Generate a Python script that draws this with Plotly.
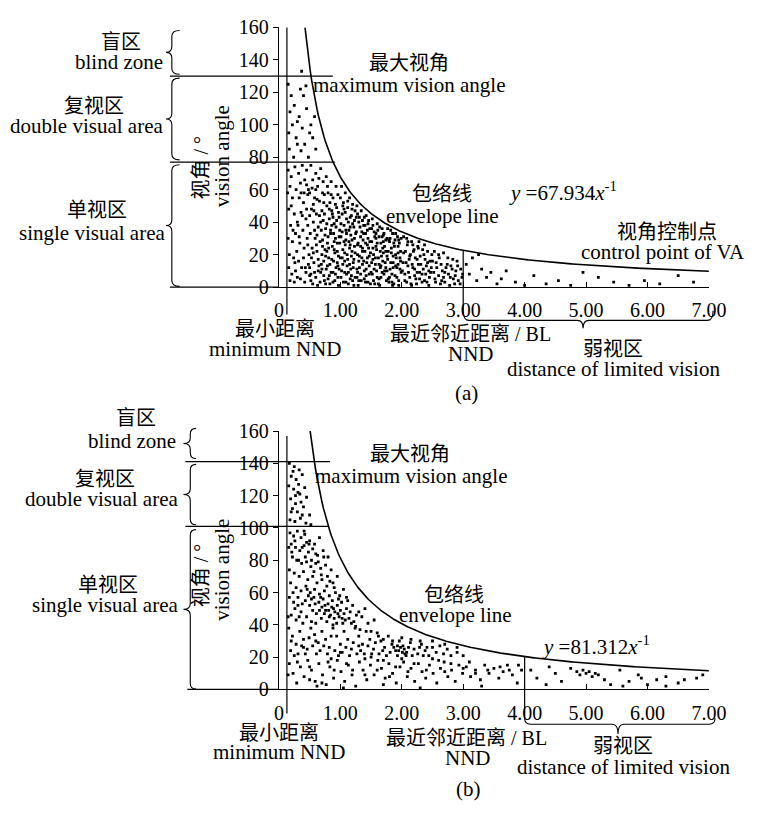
import numpy as np
import plotly.graph_objects as go

W, H = 766, 814

# ---------------- data ----------------
A_COEF = 67.934          # envelope y = 67.934 x^-1  (panel a)
B_COEF = 81.312          # envelope y = 81.312 x^-1  (panel b)
A_MIN_NND = 0.13
B_MIN_NND = 0.13
A_BL = 3.0
B_BL = 4.0
A_ZONE_LINES = [130, 77]
B_ZONE_LINES = [141, 101]

X_TICKS = [0, 1, 2, 3, 4, 5, 6, 7]
X_TICKTEXT = ["0", "1.00", "2.00", "3.00", "4.00", "5.00", "6.00", "7.00"]
Y_TICKS = [0, 20, 40, 60, 80, 100, 120, 140, 160]

# panel (a) scatter, read region by region (x = NND / BL, y = vision angle / deg)
A_LEFT = [(0.15,125),(0.2,118),(0.18,108),(0.25,112),(0.16,95),(0.22,100),(0.28,92),(0.17,85),(0.24,80),(0.3,88),
          (0.15,72),(0.2,68),(0.26,74),(0.18,62),(0.22,55),(0.28,60),(0.16,48),(0.25,45),(0.19,38),(0.3,40),
          (0.15,30),(0.22,28),(0.27,33),(0.17,20),(0.24,18),(0.29,22),(0.16,12),(0.21,8),(0.27,10),(0.18,4),
          (0.25,3),(0.3,6),(0.2,50),(0.23,35),(0.14,58),(0.26,15)]
A_UPPER = [(0.37,133),(0.35,122),(0.4,118),(0.33,105),(0.45,110),(0.38,98),(0.5,95),(0.42,88),(0.55,92),
           (0.36,84),(0.48,80),(0.6,85),(0.3,102),(0.52,100),(0.44,124),(0.58,105)]
A_X03 = [(0.32,70),(0.38,75),(0.45,72),(0.35,64),(0.42,66),(0.48,60),(0.33,55),(0.4,52),(0.47,57),(0.36,46),
         (0.44,42),(0.31,38),(0.39,35),(0.46,30),(0.34,27),(0.41,24),(0.49,20),(0.32,16),(0.37,12),(0.44,9),
         (0.48,14),(0.35,5),(0.42,3),(0.5,7),(0.38,44),(0.45,48),(0.33,31),(0.4,18),(0.47,38),(0.36,58)]
A_X05 = [(0.52,75),(0.6,70),(0.68,73),(0.55,66),(0.63,62),(0.72,65),(0.5,58),(0.58,55),(0.66,53),(0.74,57),
         (0.53,48),(0.61,45),(0.7,47),(0.56,40),(0.64,37),(0.72,41),(0.51,33),(0.59,30),(0.67,28),(0.75,32),
         (0.54,24),(0.62,22),(0.7,20),(0.57,15),(0.65,13),(0.73,16),(0.52,8),(0.6,6),(0.68,9),(0.74,4),
         (0.55,2),(0.63,1),(0.58,35),(0.69,35),(0.61,26),(0.71,25),(0.53,18),(0.66,44),(0.56,51),(0.73,52),
         (0.64,10),(0.5,12),(0.7,11),(0.6,60),(0.75,23)]
A_X075 = [(0.77,68),(0.85,65),(0.93,62),(0.8,58),(0.88,55),(0.96,57),(0.78,50),(0.86,47),(0.94,49),(0.82,42),
          (0.9,39),(0.98,43),(0.76,36),(0.84,33),(0.92,30),(0.99,35),(0.79,27),(0.87,25),(0.95,22),(0.81,18),
          (0.89,16),(0.97,19),(0.77,11),(0.85,9),(0.93,12),(0.8,5),(0.88,3),(0.96,6),(0.83,14),(0.91,21),
          (0.78,22),(0.86,38),(0.94,41),(0.8,31),(0.92,8),(0.99,27),(0.87,45),(0.83,52),(0.95,15),(0.76,2),
          (0.9,28),(0.98,11),(0.82,7),(0.89,33),(0.97,1)]
A_X10 = [(1.02,62),(1.08,58),(1.15,55),(1.05,52),(1.12,49),(1.2,51),(1.03,45),(1.1,42),(1.18,44),(1.24,47),
         (1.06,38),(1.14,35),(1.22,37),(1.01,31),(1.09,29),(1.16,26),(1.23,30),(1.04,23),(1.11,20),(1.19,22),
         (1.07,16),(1.15,14),(1.22,17),(1.02,10),(1.1,8),(1.17,11),(1.24,6),(1.05,3),(1.13,2),(1.2,4),
         (1.08,26),(1.17,32),(1.13,40),(1.21,12),(1.03,18),(1.09,35),(1.18,19),(1.06,48),(1.23,25),(1.11,13),
         (1.16,5),(1.01,39),(1.14,28),(1.2,39),(1.07,9)]
A_X125 = [(1.27,50),(1.34,47),(1.42,44),(1.3,40),(1.38,38),(1.46,41),(1.26,34),(1.33,31),(1.41,33),(1.48,36),
          (1.29,27),(1.36,24),(1.44,26),(1.28,20),(1.35,18),(1.43,15),(1.49,21),(1.31,12),(1.39,10),(1.47,13),
          (1.27,6),(1.34,4),(1.42,7),(1.49,2),(1.37,29),(1.45,30),(1.3,16),(1.4,22),(1.32,37),(1.47,8),
          (1.26,43),(1.39,43),(1.44,18),(1.28,9),(1.36,14),(1.41,3),(1.33,25),(1.46,24),(1.29,1),(1.38,33)]
A_X15 = [(1.52,42),(1.6,39),(1.68,36),(1.55,34),(1.63,31),(1.71,33),(1.51,28),(1.58,25),(1.66,27),(1.74,29),
         (1.54,20),(1.62,18),(1.7,21),(1.57,14),(1.65,12),(1.73,15),(1.52,8),(1.6,6),(1.68,9),(1.75,4),
         (1.56,2),(1.64,1),(1.59,23),(1.69,24),(1.53,17),(1.72,10),(1.61,35),(1.67,19),(1.55,11),(1.74,22),
         (1.63,5),(1.58,30),(1.7,28),(1.51,36),(1.66,13)]
A_X175 = [(1.77,36),(1.85,33),(1.93,31),(1.8,28),(1.88,25),(1.96,27),(1.78,22),(1.86,19),(1.94,21),(1.82,15),
          (1.9,13),(1.98,16),(1.76,10),(1.84,8),(1.92,6),(1.99,9),(1.79,3),(1.87,2),(1.95,4),(1.83,24),
          (1.91,18),(1.97,11),(1.81,30),(1.89,29),(1.77,17),(1.94,14),(1.86,12),(1.8,6),(1.98,22),(1.85,1)]
A_X20 = [(2.03,31),(2.1,28),(2.18,26),(2.26,25),(2.34,23),(2.42,22),(2.06,22),(2.14,20),(2.22,18),(2.3,19),
         (2.38,17),(2.46,16),(2.02,15),(2.1,13),(2.18,12),(2.27,14),(2.35,11),(2.44,10),(2.05,8),(2.13,6),
         (2.21,7),(2.29,5),(2.37,4),(2.45,6),(2.08,3),(2.16,1),(2.24,2),(2.33,8),(2.41,3),(2.48,12),
         (2.12,17),(2.2,23),(2.4,13),(2.25,9),(2.49,20)]
A_X25 = [(2.53,22),(2.6,20),(2.68,21),(2.75,18),(2.83,17),(2.9,16),(2.56,15),(2.64,14),(2.72,12),(2.8,13),
         (2.88,10),(2.96,11),(2.52,9),(2.6,7),(2.68,6),(2.76,8),(2.84,5),(2.92,4),(2.55,3),(2.63,2),
         (2.7,3),(2.78,1),(2.86,2),(2.98,6),(2.66,10)]
A_DENSE = [(0.43,12),(0.47,26),(0.52,4),(0.56,21),(0.58,9),(0.62,32),(0.64,17),(0.67,3),(0.69,14),(0.71,29),
           (0.73,7),(0.76,19),(0.78,39),(0.79,13),(0.81,24),(0.83,2),(0.84,35),(0.86,17),(0.88,9),(0.9,23),
           (0.91,4),(0.93,37),(0.95,27),(0.96,13),(0.98,31),(1.0,18),(1.01,6),(1.03,34),(1.04,14),(1.06,28),
           (1.07,21),(1.09,3),(1.1,33),(1.12,17),(1.13,9),(1.15,24),(1.16,37),(1.18,7),(1.19,29),(1.21,15),
           (1.22,1),(1.24,21),(1.25,33),(1.27,11),(1.28,26),(1.3,4),(1.31,19),(1.33,8),(1.35,34),(1.36,22),
           (1.38,16),(1.39,5),(1.41,27),(1.42,11),(1.44,35),(1.45,3),(1.47,19),(1.48,28),(1.5,9),(1.51,15),
           (1.53,24),(1.54,4),(1.56,31),(1.57,18),(1.59,10),(1.6,27),(1.62,2),(1.63,14),(1.65,22),(1.66,6),
           (1.68,31),(1.69,16),(1.71,8),(1.72,25),(1.74,12),(1.76,19),(1.78,5),(1.79,29),(1.81,11),(1.83,21),
           (1.84,3),(1.86,15),(1.87,27),(1.89,7),(1.9,20),(1.92,12),(1.94,25),(1.95,1),(1.97,18),(1.99,30),
           (2.01,10),(2.03,21),(2.05,4),(2.07,15),(2.09,26),(2.11,9),(2.13,19),(2.15,2),(2.17,14),(2.19,22),
           (2.21,11),(2.23,5),(2.25,17),(2.27,24),(2.29,9),(2.31,14),(2.33,3),(2.36,20),(2.39,8),(2.42,15),
           (2.44,1),(2.47,9),(2.5,16),(2.54,5),(2.57,12),(2.61,18),(2.65,4),(2.7,9),(2.74,14),(2.79,6),
           (2.82,11),(2.87,7),(2.91,13),(2.95,2),(2.99,8)]
A_MID = [(0.41,58),(0.45,63),(0.5,44),(0.54,61),(0.57,47),(0.62,54),(0.65,67),(0.68,40),(0.71,58),(0.74,45),
         (0.79,62),(0.82,48),(0.85,57),(0.88,43),(0.92,51),(0.97,46),(1.0,55),(1.04,50),(1.08,46),(1.12,53),
         (1.16,43),(1.19,48),(1.23,41),(1.28,45),(1.31,43),(1.36,41),(1.4,38),(1.45,39),(1.53,38),(1.58,33),
         (1.64,37),(1.7,32),(1.76,30),(1.82,35),(1.9,33),(1.95,29),(2.08,30),(2.16,28),(2.28,28),(2.37,26)]
A_FAR = [(3.05,14),(3.1,8),(3.15,18),(3.22,4),(3.3,11),(3.38,6),(3.45,9),(3.55,2),(3.62,5),(3.7,10),
         (3.85,3),(4.0,1),(4.15,7),(4.35,2),(4.55,4),(4.75,1),(4.95,9),(5.2,6),(5.45,3),(5.7,1),
         (5.95,4),(6.2,2),(6.5,7),(6.75,3),(3.25,20)]

# panel (b) scatter
B_UPPER = [(0.17,140),(0.25,138),(0.33,136),(0.2,132),(0.28,130),(0.38,133),(0.16,126),(0.24,124),(0.32,127),
           (0.42,125),(0.19,118),(0.27,120),(0.36,116),(0.45,119),(0.22,112),(0.3,110),(0.4,113),(0.5,108),
           (0.18,105),(0.26,104),(0.35,106),(0.44,103),(0.52,102),(0.31,122),(0.38,108),
           (0.2,110),(0.27,115),(0.34,121),(0.23,135)]
B_Y60 = [(0.18,97),(0.24,95),(0.3,98),(0.36,94),(0.42,96),(0.5,92),(0.58,90),(0.66,94),(0.2,90),(0.27,88),
         (0.34,86),(0.41,89),(0.48,85),(0.55,87),(0.63,83),(0.72,86),(0.8,82),(0.22,82),(0.29,80),(0.37,78),
         (0.45,79),(0.52,76),(0.6,78),(0.68,75),(0.76,77),(0.85,74),(0.17,74),(0.25,72),(0.33,70),(0.4,73),
         (0.47,68),(0.55,70),(0.62,66),(0.7,68),(0.78,64),(0.88,66),(0.95,70),(0.19,66),(0.28,63),(0.36,61),
         (0.44,64),(0.51,60),(0.58,62),(0.66,59),(0.74,61),(0.82,58),(0.92,60),(1.05,62),(0.6,84),(0.45,91),
         (0.21,85),(0.26,92),(0.32,80),(0.38,88),(0.43,82),(0.49,90),(0.53,80),(0.57,73),(0.64,79),(0.69,71),
         (0.73,82),(0.79,70),(0.83,67),(0.9,63),(0.99,58),(1.1,57),(0.16,88),(0.41,98)]
B_Y40 = [(0.17,57),(0.24,54),(0.31,52),(0.2,46),(0.28,43),(0.36,48),(0.43,55),(0.5,52),(0.57,57),(0.65,54),
         (0.72,56),(0.8,53),(0.87,55),(0.95,52),(1.02,54),(1.1,50),(1.2,52),(1.3,48),(0.45,45),(0.53,42),
         (0.61,47),(0.69,44),(0.76,49),(0.84,46),(0.91,48),(0.98,45),(1.06,47),(1.14,44),(1.22,42),(1.35,45),
         (1.45,41),(0.7,51),(0.78,42),(0.86,51),(0.94,41),(1.0,49),(1.08,43),(1.16,48),(0.6,41),(0.39,41),
         (0.82,45),(0.9,44),(0.97,56),(1.04,41),(1.26,46),(1.4,50),(1.55,43),(0.74,47),(0.66,49),(0.88,40),
         (1.12,55),(0.55,49),(0.48,58),(0.26,50),(0.33,45),
         (0.23,60),(0.31,57),(0.38,53),(0.46,62),(0.53,56),(0.59,53),(0.68,57),(0.75,52),(0.81,49),(0.89,50),
         (0.96,47),(1.03,44),(1.18,41),(0.15,45)]
B_Y20 = [(0.16,38),(0.22,33),(0.28,28),(0.34,36),(0.4,31),(0.46,25),(0.52,38),(0.58,34),(0.64,29),(0.7,36),
         (0.76,31),(0.82,26),(0.88,38),(0.94,33),(1.0,28),(1.06,36),(1.12,31),(1.18,25),(1.24,38),(1.3,33),
         (1.36,28),(1.42,36),(1.48,31),(1.54,25),(1.6,35),(1.66,30),(1.72,26),(1.78,33),(1.84,28),(1.9,24),
         (1.96,30),(2.02,27),(2.08,23),(2.14,29),(2.2,25),(2.26,22),(2.32,28),(2.38,24),(2.44,21),(2.5,26),
         (2.56,23),(2.62,27),(2.68,22),(2.74,25),(2.8,21),(2.9,23),(3.0,21),(0.19,24),(0.25,21),(0.31,22),
         (0.37,27),(0.43,22),(0.49,32),(0.55,27),(0.61,22),(0.67,24),(0.73,27),(0.79,22),(0.85,33),(0.91,24),
         (0.97,21),(1.03,23),(1.09,26),(1.15,21),(1.21,29),(1.27,22),(1.33,24),(1.39,22),(1.45,27),(1.51,22),
         (1.57,29),(1.63,22),(1.69,24),(1.75,21),(1.81,23),(1.87,26),(1.93,21),(2.0,32),(2.11,26),(2.17,21),
         (2.29,26),(2.41,26),(2.35,21),(2.05,22),(1.95,24),(1.98,26),(2.01,23),(2.04,25),(2.07,21),(1.93,27),
         (1.25,39),(1.32,37),(1.5,36),(1.62,33),(1.7,31),(1.85,30),(2.15,31),(2.3,30),(2.5,30),(2.7,28),
         (2.9,26),(0.2,30),(0.4,26),(0.6,30),(1.0,23),(1.3,27)]
B_Y0 = [(0.17,16),(0.23,10),(0.29,4),(0.35,14),(0.41,8),(0.47,18),(0.53,12),(0.59,5),(0.65,16),(0.71,9),
        (0.77,3),(0.83,14),(0.89,7),(0.95,18),(1.01,11),(1.07,5),(1.13,15),(1.19,9),(1.25,2),(1.31,17),
        (1.37,12),(1.43,6),(1.49,15),(1.55,9),(1.61,18),(1.67,13),(1.73,7),(1.79,16),(1.85,10),(1.91,4),
        (1.97,14),(2.03,17),(2.09,8),(2.15,13),(2.21,5),(2.27,16),(2.33,11),(2.39,7),(2.45,15),(2.51,10),
        (2.57,4),(2.63,13),(2.69,17),(2.75,8),(2.81,12),(2.87,5),(2.93,15),(2.99,10),(3.05,14),(3.12,8),
        (3.2,12),(3.28,6),(3.35,15),(3.42,10),(3.5,13),(3.58,7),(3.65,11),(3.72,15),(3.8,9),(3.88,4),
        (3.95,12),(0.62,2),(1.05,1),(2.3,1),(3.3,2),(0.85,19),(1.4,19),(2.6,18),(0.5,6),(1.7,3),
        (0.3,17),(0.5,14),(0.7,4),(0.8,17),(0.9,12),(1.1,16),(1.2,12),(1.4,9),(1.5,20),(1.6,12),
        (1.7,18),(1.8,8),(1.9,14),(2.0,19),(2.1,11),(2.2,16),(2.4,12),(2.5,19),(2.7,11),(2.8,16),
        (3.0,13),(3.1,17),(3.2,10),(3.4,12),(3.6,14),(3.75,12),(3.9,15),(0.15,9)]
B_FAR = [(4.1,12),(4.2,7),(4.35,3),(4.5,10),(4.6,5),(4.75,13),(4.85,11),(4.9,9),(4.95,12),(5.0,10),
         (5.05,11),(5.1,8),(5.15,10),(5.2,9),(5.3,6),(5.4,3),(5.55,12),(5.7,5),(5.85,9),(5.9,7),
         (6.0,3),(6.15,6),(6.3,8),(6.5,4),(6.6,6),(6.8,7),(6.9,9),(4.4,14),(5.6,2),(6.3,2)]

A_POINTS = (A_LEFT + A_UPPER + A_X03 + A_X05 + A_X075 + A_X10 + A_X125 + A_X15 + A_X175 + A_X20 + A_X25
            + A_DENSE + A_MID + A_FAR)
B_POINTS = B_UPPER + B_Y60 + B_Y40 + B_Y20 + B_Y0 + B_FAR

# ---------------- layout geometry (pixels) ----------------
X_PX = (282.4, 725.7)
A_PX = (283.7, 16.9)   # y=0, y=160
B_PX = (697.3, 431.7)

def xpx(v):
    return X_PX[0] + v * (X_PX[1] - X_PX[0]) / 7.0

def ypx(v, P):
    return P[0] - v * (P[0] - P[1]) / 160.0

def pp(x, y):
    return x / W, 1 - y / H

FONT = "Liberation Serif, Times New Roman, Noto Sans CJK SC"

fig = go.Figure()

def scatter(points, xa, ya):
    fig.add_trace(go.Scatter(
        x=[p[0] for p in points], y=[p[1] for p in points], mode="markers",
        marker=dict(symbol="square", size=2.8, color="black", line=dict(width=0)),
        xaxis=xa, yaxis=ya, showlegend=False, hoverinfo="skip"))

def envelope(coef, xa, ya):
    xs = np.linspace(coef / 160.0, 7.0, 300)
    fig.add_trace(go.Scatter(x=xs, y=coef / xs, mode="lines",
                             line=dict(color="black", width=1.6),
                             xaxis=xa, yaxis=ya, showlegend=False, hoverinfo="skip"))

scatter(A_POINTS, "x", "y")
envelope(A_COEF, "x", "y")
scatter(B_POINTS, "x2", "y2")
envelope(B_COEF, "x2", "y2")

shapes = []
def line_px(x0, y0, x1, y1, w=1.2):
    a, b = pp(x0, y0)
    c, d = pp(x1, y1)
    shapes.append(dict(type="line", xref="paper", yref="paper", x0=a, y0=b, x1=c, y1=d,
                       line=dict(color="black", width=w)))

def path_px(pts_cmds, w=1.1):
    s = ""
    for cmd, coords in pts_cmds:
        s += cmd
        parts = []
        for (x, y) in coords:
            a, b = pp(x, y)
            parts.append(f"{a:.5f},{b:.5f}")
        s += " ".join(parts) + " "
    shapes.append(dict(type="path", xref="paper", yref="paper", path=s.strip(),
                       line=dict(color="black", width=w)))

def vbrace(xr, xs, xt, ytop, ybot, r=6):
    ym = (ytop + ybot) / 2
    path_px([("M", [(xr, ytop)]), ("Q", [(xs, ytop), (xs, ytop + r)]), ("L", [(xs, ym - r)]),
             ("Q", [(xs, ym), (xt, ym)]), ("Q", [(xs, ym), (xs, ym + r)]), ("L", [(xs, ybot - r)]),
             ("Q", [(xs, ybot), (xr, ybot)])])

def hbrace(xl, xr, ytop, yflat, ytip, xm, r=6):
    path_px([("M", [(xl, ytop)]), ("Q", [(xl, yflat), (xl + r, yflat)]), ("L", [(xm - r, yflat)]),
             ("Q", [(xm, yflat), (xm, ytip)]), ("Q", [(xm, yflat), (xm + r, yflat)]), ("L", [(xr - r, yflat)]),
             ("Q", [(xr, yflat), (xr, ytop)])])

# panel (a) reference lines
line_px(xpx(A_MIN_NND), ypx(160, A_PX), xpx(A_MIN_NND), 312)
line_px(xpx(A_BL), ypx(A_COEF / A_BL, A_PX), xpx(A_BL), 308)
line_px(170, ypx(A_ZONE_LINES[0], A_PX), 338, ypx(A_ZONE_LINES[0], A_PX))
line_px(170, ypx(A_ZONE_LINES[1], A_PX), 340, ypx(A_ZONE_LINES[1], A_PX))
line_px(170, ypx(0, A_PX), X_PX[0], ypx(0, A_PX))
vbrace(180, 172, 166, 20, 65)
vbrace(180, 172, 166, 69, 153)
vbrace(180, 172, 166, 158, 283)
hbrace(xpx(A_BL), 730, 308, 318, 326, 596)

# panel (b) reference lines
line_px(xpx(B_MIN_NND), ypx(157, B_PX), xpx(B_MIN_NND), 722)
line_px(xpx(B_BL), ypx(B_COEF / B_BL, B_PX), xpx(B_BL), 727)
line_px(186, ypx(B_ZONE_LINES[0], B_PX), 335, ypx(B_ZONE_LINES[0], B_PX))
line_px(186, ypx(B_ZONE_LINES[1], B_PX), 333, ypx(B_ZONE_LINES[1], B_PX))
line_px(188, ypx(0, B_PX), X_PX[0], ypx(0, B_PX))
vbrace(197, 191, 184, 429, 460)
vbrace(197, 191, 184, 466, 528)
vbrace(197, 191, 184, 533, 697)
hbrace(xpx(B_BL), 732, 727, 733, 743, 632)

annotations = []
def ann(text, x, y, size=20, xanchor="center", angle=0, family=FONT):
    a, b = pp(x, y)
    annotations.append(dict(text=text, x=a, y=b, xref="paper", yref="paper", showarrow=False,
                            xanchor=xanchor, yanchor="middle", textangle=angle,
                            font=dict(family=family, size=size, color="black")))

# panel (a) labels
ann("盲区", 120, 32, 20)
ann("blind zone", 165, 52, 21, "right")
ann("复视区", 92, 98, 20)
ann("double visual area", 165, 118, 21, "right")
ann("单视区", 95, 205, 20)
ann("single visual area", 167, 228, 21, "right")
ann("视角 / °", 202, 161, 20, angle=-90)
ann("vision angle", 224, 149, 21, angle=-90)
ann("最大视角", 417, 53, 20)
ann("maximum vision angle", 417, 76, 21)
ann("包络线", 451, 188, 20)
ann("envelope line", 451, 211, 21)
ann("<i>y</i> =67.934<i>x</i><sup>-1</sup>", 518, 185, 21, "left")
ann("视角控制点", 683, 227, 20)
ann("control point of VA", 765, 248, 21, "right")
ann("最小距离", 278, 327, 20)
ann("minimum NND", 278, 347, 21)
ann("最近邻近距离 / BL", 480, 332, 20)
ann("NND", 480, 353, 21)
ann("弱视区", 627, 347, 20)
ann("distance of limited vision", 627, 368, 21)
ann("(a)", 476, 393, 21)

# panel (b) labels
ann("盲区", 135, 418, 20)
ann("blind zone", 178, 442, 21, "right")
ann("复视区", 103, 481, 20)
ann("double visual area", 180, 502, 21, "right")
ann("单视区", 106, 590, 20)
ann("single visual area", 180, 610, 21, "right")
ann("视角 / °", 202, 580, 20, angle=-90)
ann("vision angle", 224, 574, 21, angle=-90)
ann("最大视角", 418, 455, 20)
ann("maximum vision angle", 419, 478, 21)
ann("包络线", 463, 600, 20)
ann("envelope line", 464, 621, 21)
ann("<i>y</i> =81.312<i>x</i><sup>-1</sup>", 552, 652, 21, "left")
ann("最小距离", 282, 742, 20)
ann("minimum NND", 282, 762, 21)
ann("最近邻近距离 / BL", 476, 747, 20)
ann("NND", 477, 768, 21)
ann("弱视区", 637, 755, 20)
ann("distance of limited vision", 638, 777, 21)
ann("(b)", 478, 800, 21)

xdom = [X_PX[0] / W, X_PX[1] / W]
def xaxis_cfg(anchor):
    return dict(domain=xdom, range=[0, 7], anchor=anchor, showline=True, linecolor="black",
                linewidth=1.2, ticks="inside", ticklen=5, tickcolor="black", tickwidth=1.2,
                tickmode="array", tickvals=X_TICKS, ticktext=X_TICKTEXT, showgrid=False,
                zeroline=False, ticklabelstandoff=5,
                tickfont=dict(family=FONT, size=20, color="black"))

def yaxis_cfg(anchor, P):
    return dict(domain=[1 - P[0] / H, 1 - P[1] / H], range=[0, 160], anchor=anchor, showline=True,
                linecolor="black", linewidth=1.2, ticks="outside", ticklen=5, tickcolor="black",
                tickwidth=1.2, tickmode="array", tickvals=Y_TICKS, showgrid=False, zeroline=False,
                tickfont=dict(family=FONT, size=20, color="black"))

fig.update_layout(
    width=W, height=H, margin=dict(l=0, r=0, t=0, b=0),
    paper_bgcolor="white", plot_bgcolor="white",
    xaxis=xaxis_cfg("y"), yaxis=yaxis_cfg("x", A_PX),
    xaxis2=xaxis_cfg("y2"), yaxis2=yaxis_cfg("x2", B_PX),
    shapes=shapes, annotations=annotations, showlegend=False,
)

fig.write_html("out.html")
